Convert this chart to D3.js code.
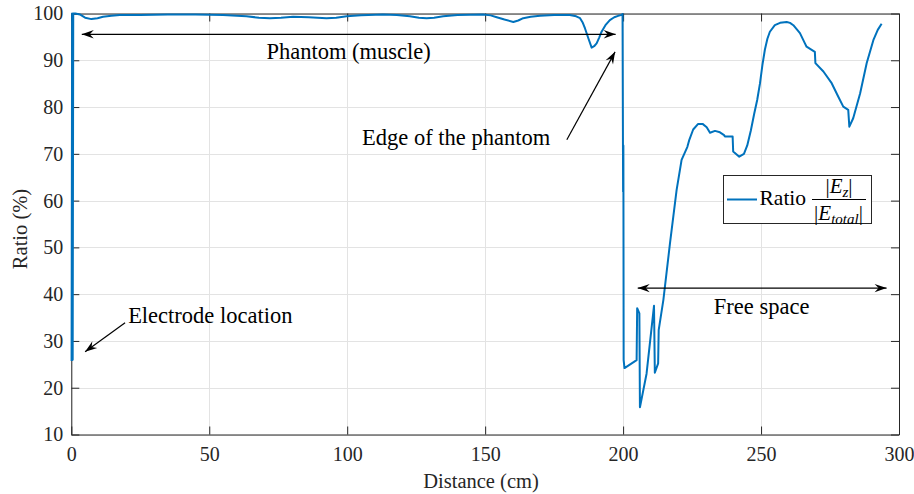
<!DOCTYPE html>
<html><head><meta charset="utf-8">
<script src="https://cdn.jsdelivr.net/npm/d3@7"></script>
<style>
body{margin:0;background:#fff}
svg{display:block}
</style>
</head><body>
<svg id="c" width="914" height="494"></svg>
<script>
// ---- data ----
const distance = [0.1,0.3,0.5,0.7,1.5,3.1,5.0,7.3,9.5,11.5,14.5,17.6,25,35,45,55,60,63.5,68,72,76,80.4,86,92.5,96,99.8,105,113,118,122.7,126,128.8,131.5,134.8,140,149.3,152,154.2,157,160.2,162,163.8,166.5,169.9,175,180.7,183,184.4,185.4,186.2,187.4,188.6,189.5,190.4,191.3,192.2,193.6,195.2,196.8,198.2,199.5,199.8,200.0,200.1,200.2,200.5,204.9,205.1,205.9,206.1,208.5,211.2,211.5,212.7,212.9,214.6,217,219.4,221.2,223.3,224,225.4,227.2,228.8,230.3,231.5,233.3,235.1,236.6,236.9,239.7,239.9,242.1,243.8,245.0,246.3,247.5,248.6,249.6,250.5,251.4,252.3,253.2,255.0,256.9,259.3,260.5,261.7,264.1,265.9,266.5,269.5,269.7,272.6,275.6,278.0,279.8,281.6,282.0,283.4,285.9,288.3,290.7,292.3,293.7];
const ratio = [25.7,100,26.0,100,100,99.8,99.1,98.8,99.0,99.3,99.5,99.7,99.7,99.8,99.8,99.7,99.5,99.4,99.1,99.0,99.1,99.3,99.2,99.0,99.1,99.4,99.6,99.8,99.7,99.4,99.1,99.0,99.1,99.4,99.7,99.8,99.6,99.2,98.7,98.2,98.5,99.0,99.3,99.5,99.7,99.7,99.4,99.0,98.0,96.8,94.7,92.7,93.0,93.6,94.8,96.1,97.5,98.6,99.2,99.5,99.7,99.9,61.9,71.8,25.9,24.2,25.9,37.0,35.9,15.8,23,37.5,23.2,25.2,32.3,38.8,50.9,62.3,68.7,71.5,73,75.2,76.4,76.4,75.7,74.5,74.9,74.6,74.0,73.7,73.7,70.5,69.4,70.0,71.8,75.0,78.5,81.5,85,89,92.3,94.6,96.1,97.5,98.0,98.2,98.0,97.5,95.8,93.6,92.9,91.8,89.4,87.6,85.1,82.2,80.1,79.4,75.8,77.6,82.9,89.4,94.3,96.5,97.8];
const xTicks = [0,50,100,150,200,250,300];
const yTicks = [10,20,30,40,50,60,70,80,90,100];
const xLabel = "Distance (cm)";
const yLabel = "Ratio (%)";

const FONT = "'Liberation Serif', 'Times New Roman', Times, serif";
const svg = d3.select("#c");
const L = 71.3, R = 899, T = 13.5, B = 434.5;
const x = d3.scaleLinear().domain([0,300]).range([L,R]);
const y = d3.scaleLinear().domain([10,100]).range([B,T]);
const axisCol = "#262626";

// grid
const g = svg.append("g").attr("shape-rendering","crispEdges");
g.selectAll(".gx").data(xTicks).join("line")
  .attr("x1",d=>Math.round(x(d))+0.5).attr("x2",d=>Math.round(x(d))+0.5)
  .attr("y1",T).attr("y2",B).attr("stroke","#e3e3e3");
g.selectAll(".gy").data(yTicks).join("line")
  .attr("y1",d=>Math.round(y(d))+0.5).attr("y2",d=>Math.round(y(d))+0.5)
  .attr("x1",L).attr("x2",R).attr("stroke","#e3e3e3");

// axes
function styleAxis(sel){
  sel.attr("font-family",null);
  sel.select(".domain").attr("stroke",axisCol);
  sel.selectAll(".tick line").attr("stroke",axisCol);
  sel.selectAll("text").attr("fill","#262626").style("font-size","20px");
}
const ax = svg.append("g").attr("transform",`translate(0,${B})`)
  .call(d3.axisBottom(x).tickValues(xTicks).tickSize(-8).tickSizeOuter(0).tickPadding(12));
styleAxis(ax);
const ay = svg.append("g").attr("transform",`translate(${L},0)`)
  .call(d3.axisLeft(y).tickValues(yTicks).tickSize(-8).tickSizeOuter(0).tickPadding(8));
styleAxis(ay);
const axT = svg.append("g").attr("transform",`translate(0,${T})`)
  .call(d3.axisTop(x).tickValues(xTicks).tickSize(-8).tickSizeOuter(0).tickFormat(""));
styleAxis(axT);
const ayR = svg.append("g").attr("transform",`translate(${R},0)`)
  .call(d3.axisRight(y).tickValues(yTicks).tickSize(-8).tickSizeOuter(0).tickFormat(""));
styleAxis(ayR);

// labels
svg.append("text").attr("x",481).attr("y",488).attr("text-anchor","middle")
  .style("font-size","20.5px").attr("fill","#262626").text(xLabel);
svg.append("text").attr("transform","translate(27,229) rotate(-90)").attr("text-anchor","middle")
  .style("font-size","20.5px").attr("fill","#262626").text(yLabel);

// data line
svg.append("path").datum(distance.map((d,i)=>[d,ratio[i]]))
  .attr("fill","none").attr("stroke","#0072BD").attr("stroke-width",2)
  .attr("stroke-linejoin","round")
  .attr("d",d3.line().x(d=>x(d[0])).y(d=>y(d[1])));

// annotations
function head(px,py,ang){
  const Lh=12, W=4.2, N=8;
  const c=Math.cos(ang), s=Math.sin(ang);
  const pt=(a,b)=>[px + a*c - b*s, py + a*s + b*c];
  const pts=[pt(0,0),pt(-Lh,-W),pt(-N,0),pt(-Lh,W)];
  svg.append("path").attr("d","M"+pts.map(p=>p.join(",")).join("L")+"Z").attr("fill","#000");
}
function arrow(x1,y1,x2,y2,dbl){
  const X1=x(x1),Y1=y(y1),X2=x(x2),Y2=y(y2);
  svg.append("line").attr("x1",X1).attr("y1",Y1).attr("x2",X2).attr("y2",Y2)
    .attr("stroke","#000").attr("stroke-width",1.2);
  head(X2,Y2,Math.atan2(Y2-Y1,X2-X1));
  if(dbl) head(X1,Y1,Math.atan2(Y1-Y2,X1-X2));
}
arrow(3.8,95.55,197.3,95.55,true);
arrow(179.6,73.0,197.1,91.8,false);
arrow(19.5,33.9,5.0,27.7,false);
arrow(205.3,41.3,295.5,41.3,true);

const ann = [
  {t:"Phantom (muscle)", x:100.5, y:90.3, a:"middle"},
  {t:"Edge of the phantom", x:105.4, y:71.9, a:"start"},
  {t:"Electrode location", x:20.6, y:33.8, a:"start"},
  {t:"Free space", x:250.2, y:35.8, a:"middle"}
];
svg.selectAll(".ann").data(ann).join("text")
  .attr("x",d=>x(d.x)).attr("y",d=>y(d.y)).attr("text-anchor",d=>d.a)
  .style("font-size","22.5px").attr("fill","#000").text(d=>d.t);

// legend
const lg = svg.append("g");
lg.append("rect").attr("x",723).attr("y",175).attr("width",148).attr("height",48)
  .attr("fill","#fff").attr("stroke",axisCol).attr("stroke-width",1).attr("shape-rendering","crispEdges");
lg.append("line").attr("x1",727).attr("x2",757).attr("y1",199.5).attr("y2",199.5)
  .attr("stroke","#0072BD").attr("stroke-width",2);
lg.append("text").attr("x",759.5).attr("y",204.5).style("font-size","21.5px").text("Ratio");
lg.append("line").attr("x1",812).attr("x2",866).attr("y1",199.5).attr("y2",199.5)
  .attr("stroke","#000").attr("stroke-width",1);
const num = lg.append("text").attr("x",839).attr("y",193).attr("text-anchor","middle").style("font-size","21px");
num.append("tspan").text("|");
num.append("tspan").style("font-style","italic").text("E");
num.append("tspan").style("font-style","italic").style("font-size","15px").attr("dy",4).text("z");
num.append("tspan").attr("dy",-4).text("|");
const den = lg.append("text").attr("x",838.5).attr("y",220).attr("text-anchor","middle").style("font-size","21px");
den.append("tspan").text("|");
den.append("tspan").style("font-style","italic").text("E");
den.append("tspan").style("font-style","italic").style("font-size","15px").attr("dy",4).text("total");
den.append("tspan").attr("dy",-4).text("|");

svg.selectAll("text").style("font-family", FONT);
</script>
</body></html>
